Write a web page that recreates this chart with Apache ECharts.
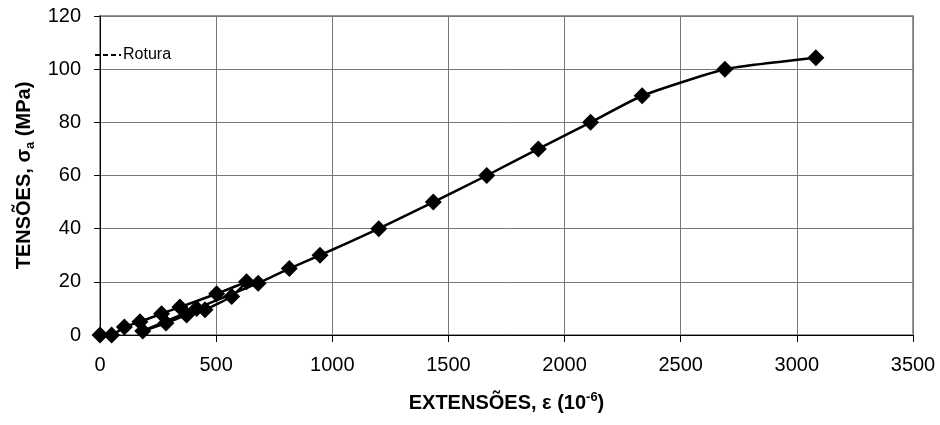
<!DOCTYPE html>
<html>
<head>
<meta charset="utf-8">
<script src="https://cdn.jsdelivr.net/npm/echarts@6/dist/echarts.min.js"></script>
<style>
  html, body { margin: 0; padding: 0; background: #fff; }
  #chart { width: 940px; height: 425px; }
</style>
</head>
<body>
<div id="chart"></div>
<script>
// Strain readings (10^-6), in test order:
// first loading to 20 MPa, unloading, reloading, then monotonic loading to failure
const strain = [0, 50, 105, 172, 265, 344, 502, 631,
                567, 452, 373, 284, 184,
                416, 681, 815, 947, 1200, 1435, 1665, 1887, 2112, 2334, 2690, 3082];
// Matching axial stress (MPa)
const stress = [0, 0, 3, 5, 8, 10.5, 15.5, 20,
                14.5, 9.5, 7.5, 4.5, 1.5,
                10, 19.5, 25, 30, 40, 50, 60, 70, 80, 90, 100, 104.3];

const xTicks = [0, 500, 1000, 1500, 2000, 2500, 3000, 3500];
const yTicks = [0, 20, 40, 60, 80, 100, 120];

const FONT = 'Liberation Sans, Arial, sans-serif';
const points = strain.map((s, i) => [s, stress[i]]);

const chart = echarts.init(document.getElementById('chart'), null, { renderer: 'canvas' });
chart.setOption({
  animation: false,
  backgroundColor: '#ffffff',
  grid: {
    left: 100, right: 27, top: 16, bottom: 90,
    show: true, borderColor: '#999999', borderWidth: 2, backgroundColor: 'transparent'
  },
  legend: {
    left: 89, top: 42,
    itemWidth: 26, itemHeight: 10, itemGap: 2,
    itemStyle: { color: 'transparent', borderWidth: 0 },
    textStyle: { fontFamily: FONT, fontSize: 16, color: '#000', padding: [0, 0, 0, -3] },
    data: ['Rotura']
  },
  xAxis: {
    type: 'value',
    min: xTicks[0], max: xTicks[xTicks.length - 1], interval: 500,
    name: '{b|EXTENSÕES, ε (10}{sup|-6}{b|)}',
    nameLocation: 'middle', nameGap: 56,
    nameTextStyle: {
      rich: {
        b: { fontFamily: FONT, fontSize: 20, fontWeight: 'bold', color: '#000', lineHeight: 24 },
        sup: { fontFamily: FONT, fontSize: 13, fontWeight: 'bold', color: '#000', verticalAlign: 'top', lineHeight: 24 }
      }
    },
    axisLine: { show: true, lineStyle: { color: '#000', width: 1 } },
    axisTick: { show: true, inside: false, length: 7, lineStyle: { color: '#000' } },
    axisLabel: { fontFamily: FONT, fontSize: 20, color: '#000', margin: 20, formatter: v => String(v) },
    splitLine: { show: true, lineStyle: { color: '#777', width: 1 } }
  },
  yAxis: {
    type: 'value',
    min: yTicks[0], max: yTicks[yTicks.length - 1], interval: 20,
    name: '{b|TENSÕES, σ}{sub|a}{b| (MPa)}',
    nameLocation: 'middle', nameGap: 63, nameRotate: 90,
    nameTextStyle: {
      rich: {
        b: { fontFamily: FONT, fontSize: 20, fontWeight: 'bold', color: '#000', lineHeight: 24 },
        sub: { fontFamily: FONT, fontSize: 13, fontWeight: 'bold', color: '#000', verticalAlign: 'bottom', lineHeight: 24 }
      }
    },
    axisLine: { show: true, lineStyle: { color: '#000', width: 1 } },
    axisTick: { show: true, inside: false, length: 6, lineStyle: { color: '#000' } },
    axisLabel: { fontFamily: FONT, fontSize: 20, color: '#000', margin: 19, formatter: v => String(v) },
    splitLine: { show: true, lineStyle: { color: '#777', width: 1 } }
  },
  series: [
    {
      name: 'Ensaio',
      type: 'line',
      data: points,
      smooth: 0.15,
      symbol: 'diamond',
      symbolSize: 17,
      itemStyle: { color: '#000' },
      lineStyle: { color: '#000', width: 2.5 },
      z: 3
    },
    {
      name: 'Rotura',
      type: 'line',
      data: [],
      symbol: 'none',
      lineStyle: { color: '#000', width: 1, type: [5, 3] },
      itemStyle: { color: 'transparent' }
    }
  ]
});
</script>
</body>
</html>
